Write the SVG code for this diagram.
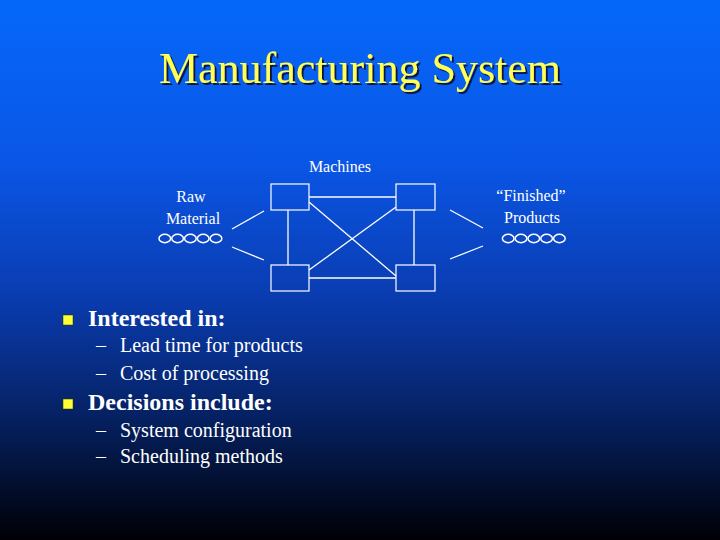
<svg xmlns="http://www.w3.org/2000/svg" width="720" height="540" viewBox="0 0 720 540">
<defs>
<linearGradient id="bg" x1="0" y1="0" x2="0" y2="1">
<stop offset="0" stop-color="#0568fa"/>
<stop offset="0.3" stop-color="#0a56e6"/>
<stop offset="0.55" stop-color="#0a3cb0"/>
<stop offset="0.78" stop-color="#05205f"/>
<stop offset="1" stop-color="#000005"/>
</linearGradient>
<filter id="shadow" x="-10%" y="-20%" width="120%" height="150%">
<feDropShadow dx="2" dy="2" stdDeviation="0.6" flood-color="#101030" flood-opacity="0.9"/>
</filter>
<style>
.box{fill:none;stroke:#ffffff;stroke-width:1.2}
.ln{stroke:#ffffff;stroke-width:1.3;fill:none}
.ov{fill:none;stroke:#ffffff;stroke-width:1.5}
.bul{fill:#ffff33;stroke:#333300;stroke-width:0.5}
</style>
</defs>
<rect x="0" y="0" width="720" height="540" fill="url(#bg)"/>
<g id="title">
<text x="360" y="83" font-family="Liberation Serif" font-size="44" text-anchor="middle" fill="#ffff55" filter="url(#shadow)">Manufacturing System</text>
</g>
<g id="connectors">
<line class="ln" x1="309" y1="197" x2="396" y2="197"/>
<line class="ln" x1="309" y1="278" x2="396" y2="278"/>
<line class="ln" x1="288" y1="210" x2="288" y2="265"/>
<line class="ln" x1="414" y1="210" x2="414" y2="265"/>
<line class="ln" x1="309" y1="202" x2="396" y2="276"/>
<line class="ln" x1="309" y1="270" x2="396" y2="207"/>
<line class="ln" x1="232" y1="229" x2="264" y2="211"/>
<line class="ln" x1="232" y1="247" x2="264" y2="260"/>
<line class="ln" x1="450" y1="210" x2="483" y2="228"/>
<line class="ln" x1="450" y1="259" x2="483" y2="246"/>
</g>
<g id="machine-tl"><rect class="box" x="271" y="184" width="38" height="26"/></g>
<g id="machine-tr"><rect class="box" x="396" y="184" width="39" height="26"/></g>
<g id="machine-bl"><rect class="box" x="271" y="265" width="38" height="26"/></g>
<g id="machine-br"><rect class="box" x="396" y="265" width="39" height="26"/></g>
<g id="machines-label"><text x="340" y="172" font-family="Liberation Serif" font-size="16" text-anchor="middle" fill="#ffffff">Machines</text></g>
<g id="raw-material">
<text x="191" y="202" font-family="Liberation Serif" font-size="16" text-anchor="middle" fill="#ffffff">Raw</text>
<text x="193" y="224" font-family="Liberation Serif" font-size="16" text-anchor="middle" fill="#ffffff">Material</text>
<ellipse class="ov" cx="164.8" cy="238.5" rx="5.8" ry="4.2"/>
<ellipse class="ov" cx="177.6" cy="238.5" rx="5.8" ry="4.2"/>
<ellipse class="ov" cx="190.4" cy="238.5" rx="5.8" ry="4.2"/>
<ellipse class="ov" cx="203.2" cy="238.5" rx="5.8" ry="4.2"/>
<ellipse class="ov" cx="216" cy="238.5" rx="5.8" ry="4.2"/>
</g>
<g id="finished-products">
<text x="531" y="201" font-family="Liberation Serif" font-size="16" text-anchor="middle" fill="#ffffff">“Finished”</text>
<text x="532" y="223" font-family="Liberation Serif" font-size="16" text-anchor="middle" fill="#ffffff">Products</text>
<ellipse class="ov" cx="508.2" cy="238.5" rx="5.8" ry="4.2"/>
<ellipse class="ov" cx="521" cy="238.5" rx="5.8" ry="4.2"/>
<ellipse class="ov" cx="533.8" cy="238.5" rx="5.8" ry="4.2"/>
<ellipse class="ov" cx="546.6" cy="238.5" rx="5.8" ry="4.2"/>
<ellipse class="ov" cx="559.4" cy="238.5" rx="5.8" ry="4.2"/>
</g>
<g id="bullets">
<rect class="bul" x="63" y="315" width="10" height="10"/>
<text x="88" y="326" font-family="Liberation Serif" font-size="24" font-weight="bold" fill="#ffffff">Interested in:</text>
<text x="96" y="352" font-family="Liberation Serif" font-size="20" fill="#ffffff">–</text>
<text x="120" y="352" font-family="Liberation Serif" font-size="20" fill="#ffffff">Lead time for products</text>
<text x="96" y="380" font-family="Liberation Serif" font-size="20" fill="#ffffff">–</text>
<text x="120" y="380" font-family="Liberation Serif" font-size="20" fill="#ffffff">Cost of processing</text>
<rect class="bul" x="63" y="399" width="10" height="10"/>
<text x="88" y="410" font-family="Liberation Serif" font-size="24" font-weight="bold" fill="#ffffff">Decisions include:</text>
<text x="96" y="437" font-family="Liberation Serif" font-size="20" fill="#ffffff">–</text>
<text x="120" y="437" font-family="Liberation Serif" font-size="20" fill="#ffffff">System configuration</text>
<text x="96" y="463" font-family="Liberation Serif" font-size="20" fill="#ffffff">–</text>
<text x="120" y="463" font-family="Liberation Serif" font-size="20" fill="#ffffff">Scheduling methods</text>
</g>
</svg>
